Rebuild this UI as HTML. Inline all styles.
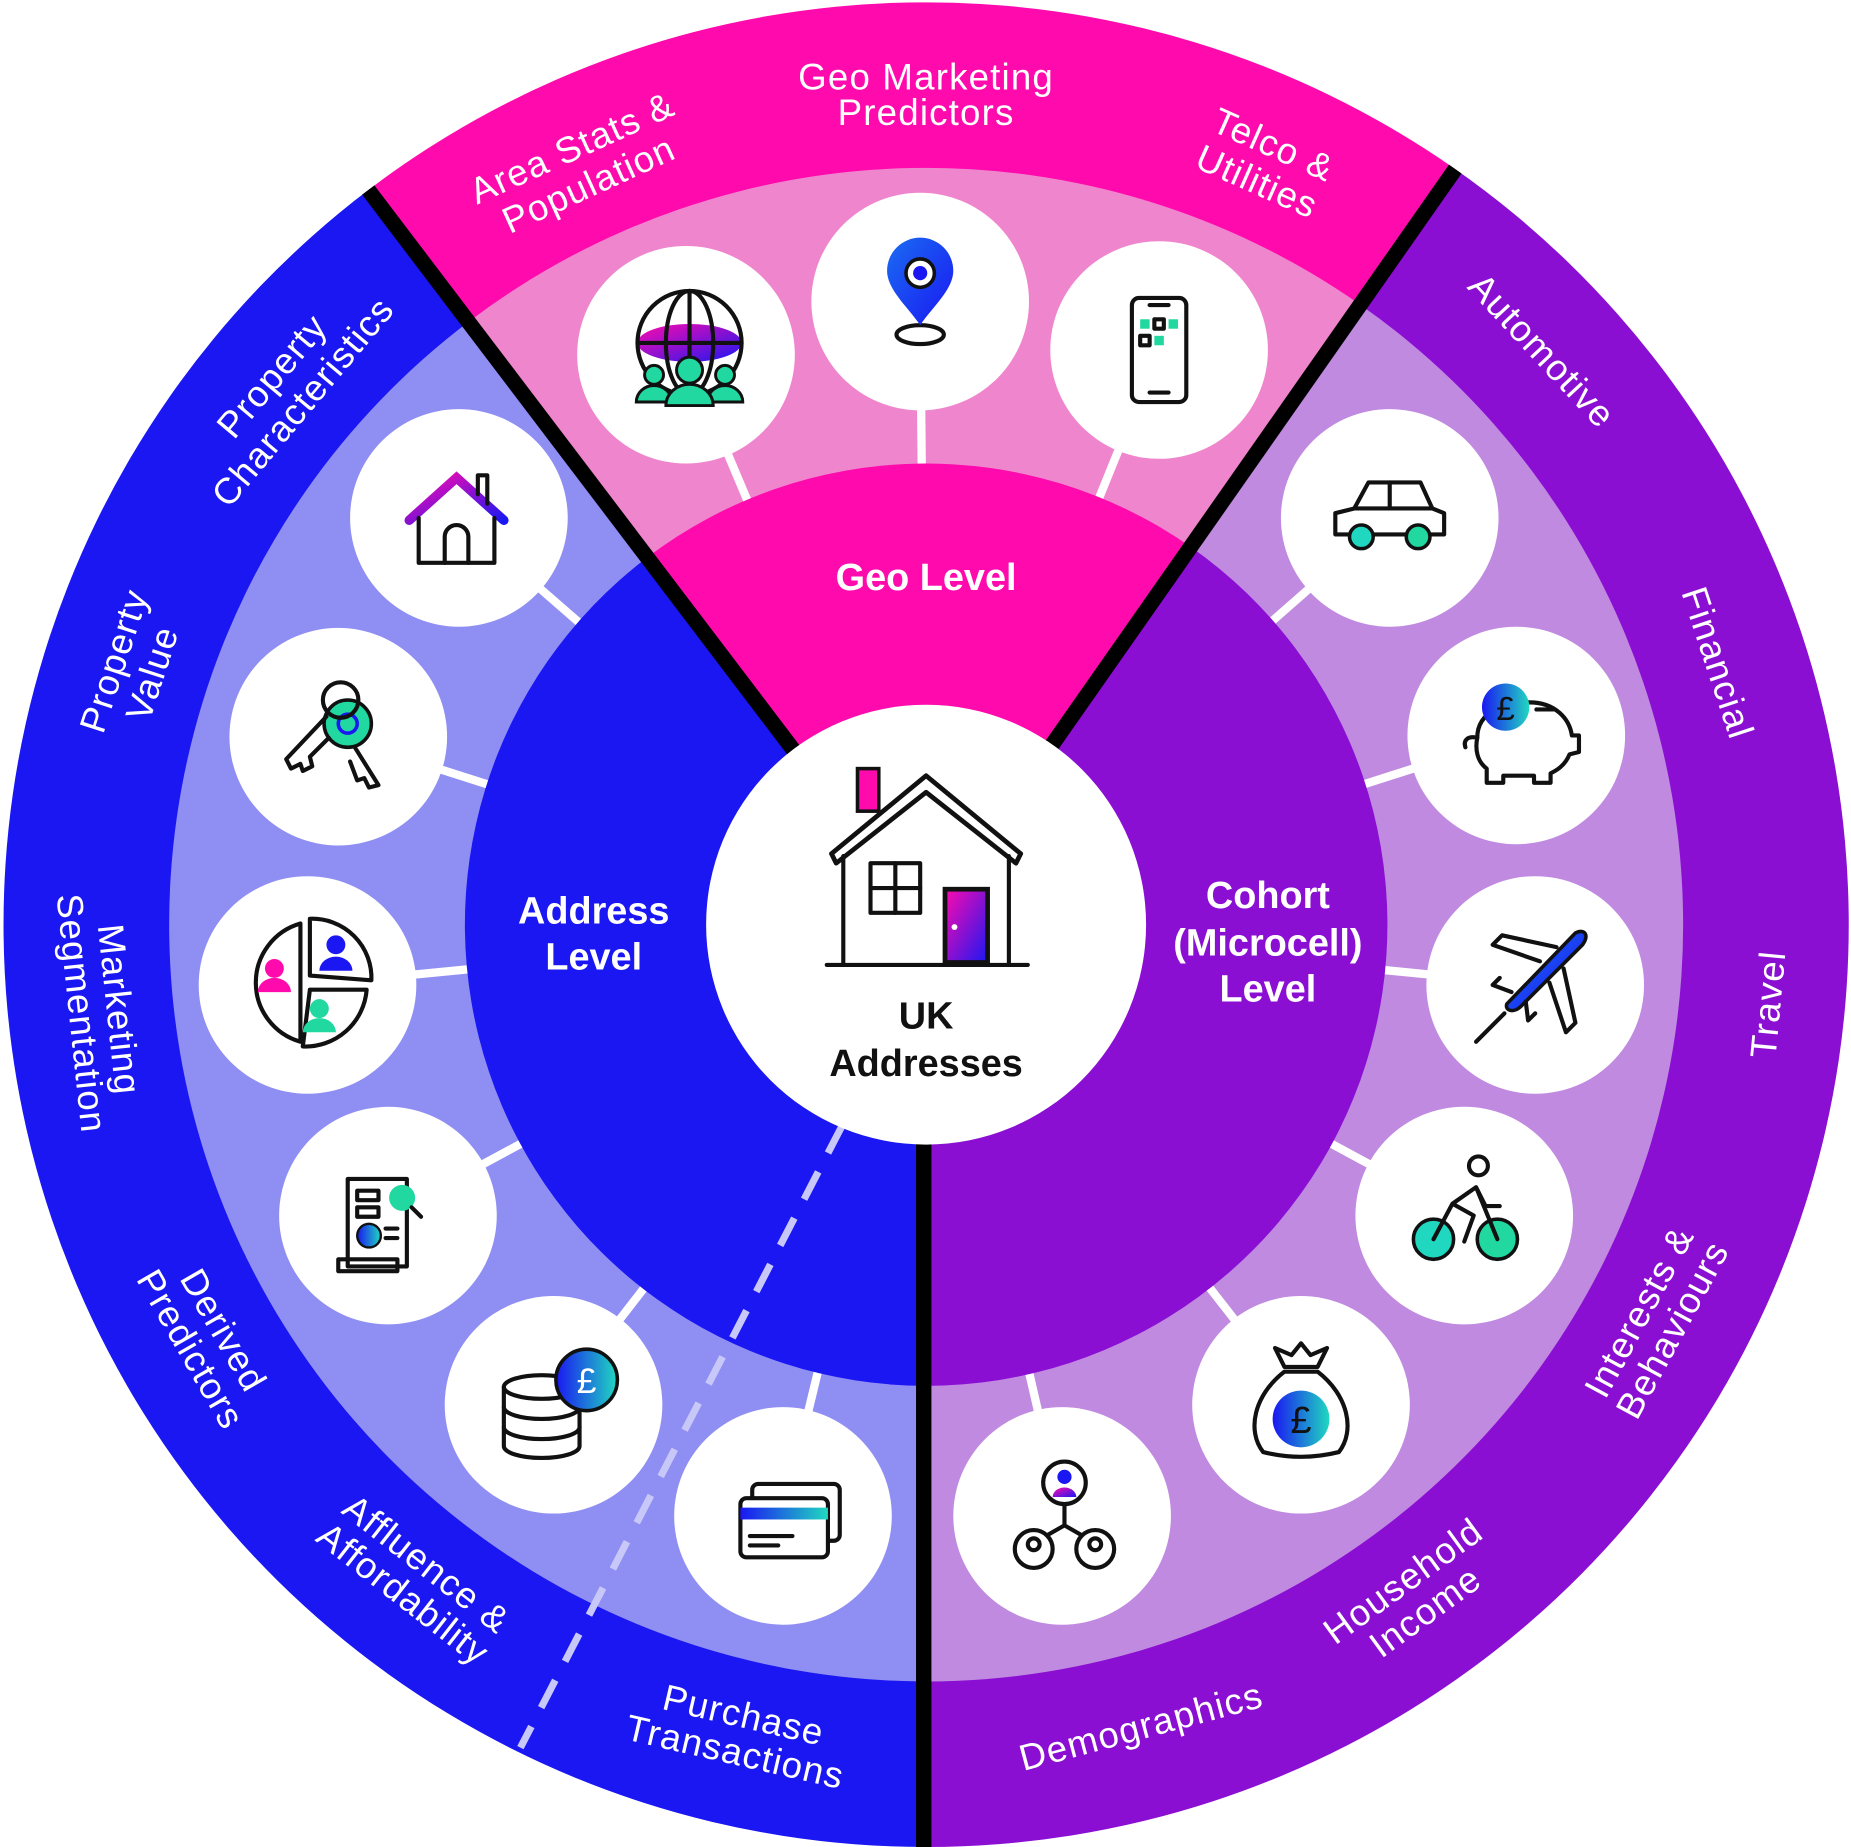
<!DOCTYPE html>
<html><head><meta charset="utf-8"><style>
html,body{margin:0;padding:0;background:#fff;}
svg{display:block;}
.lb{font-family:"Liberation Sans",sans-serif;font-size:31px;fill:#fff;text-anchor:middle;dominant-baseline:central;letter-spacing:1px;}
.lv{font-family:"Liberation Sans",sans-serif;font-size:32px;font-weight:bold;fill:#fff;text-anchor:middle;}
.ic{fill:none;stroke:#111;stroke-width:3.5;stroke-linejoin:round;stroke-linecap:round;}
</style></head><body>
<svg width="1851" height="1847" viewBox="0 0 1565 1562" preserveAspectRatio="none" xmlns="http://www.w3.org/2000/svg">
<defs>
<linearGradient id="g1" x1="0" y1="0" x2="1" y2="1"><stop offset="0" stop-color="#ff0aad"/><stop offset="1" stop-color="#1a17f2"/></linearGradient>
<linearGradient id="g2" x1="0" y1="0" x2="1" y2="0"><stop offset="0" stop-color="#1a17f2"/><stop offset="1" stop-color="#20d8c0"/></linearGradient>
<linearGradient id="g3" x1="0" y1="0" x2="1" y2="1"><stop offset="0" stop-color="#1a6cf2"/><stop offset="1" stop-color="#1a17f2"/></linearGradient>
</defs>
<path d="M783 782 L311.4 160.7 A780 780 0 0 1 1230.4 143 Z" fill="#ff0aad"/>
<path d="M783 782 L783 1562 A780 780 0 0 1 311.4 160.7 Z" fill="#1a17f2"/>
<path d="M783 782 L1230.4 143 A780 780 0 0 1 783 1562 Z" fill="#8a0fd3"/>
<path d="M783 782 L396.1 272.2 A640 640 0 0 1 1150.1 257.7 Z" fill="#ef86cd"/>
<path d="M783 782 L783 1422 A640 640 0 0 1 396.1 272.2 Z" fill="#8f8ef3"/>
<path d="M783 782 L1150.1 257.7 A640 640 0 0 1 783 1422 Z" fill="#c08ae0"/>
<g stroke="#fff" stroke-width="7">
<line x1="580" y1="300" x2="783" y2="782"/><line x1="778" y1="255" x2="783" y2="782"/><line x1="980" y1="296" x2="783" y2="782"/>
<line x1="388" y1="438" x2="783" y2="782"/><line x1="286" y1="623" x2="783" y2="782"/><line x1="260" y1="833" x2="783" y2="782"/>
<line x1="328" y1="1028" x2="783" y2="782"/><line x1="468" y1="1188" x2="783" y2="782"/><line x1="662" y1="1282" x2="783" y2="782"/>
<line x1="1175" y1="438" x2="783" y2="782"/><line x1="1282" y1="622" x2="783" y2="782"/><line x1="1298" y1="833" x2="783" y2="782"/>
<line x1="1238" y1="1028" x2="783" y2="782"/><line x1="1100" y1="1188" x2="783" y2="782"/><line x1="898" y1="1282" x2="783" y2="782"/>
</g>
<path d="M783 782 L547.2 471.4 A390 390 0 0 1 1006.7 462.5 Z" fill="#ff0aad"/>
<path d="M783 782 L783 1172 A390 390 0 0 1 547.2 471.4 Z" fill="#1a17f2"/>
<path d="M783 782 L1006.7 462.5 A390 390 0 0 1 783 1172 Z" fill="#8a0fd3"/>
<line x1="712" y1="952" x2="440" y2="1478" stroke="#c8c8f8" stroke-width="6" stroke-dasharray="26 18"/>
<g stroke="#000" stroke-width="13">
<line x1="783" y1="782" x2="311.4" y2="160.7"/>
<line x1="783" y1="782" x2="1230.4" y2="143"/>
<line x1="781" y1="782" x2="781" y2="1562"/>
</g>
<g fill="#fff">
<circle cx="580" cy="300" r="92"/><circle cx="778" cy="255" r="92"/><circle cx="980" cy="296" r="92"/>
<circle cx="388" cy="438" r="92"/><circle cx="286" cy="623" r="92"/><circle cx="260" cy="833" r="92"/>
<circle cx="328" cy="1028" r="92"/><circle cx="468" cy="1188" r="92"/><circle cx="662" cy="1282" r="92"/>
<circle cx="1175" cy="438" r="92"/><circle cx="1282" cy="622" r="92"/><circle cx="1298" cy="833" r="92"/>
<circle cx="1238" cy="1028" r="92"/><circle cx="1100" cy="1188" r="92"/><circle cx="898" cy="1282" r="92"/>
<circle cx="783" cy="782" r="186"/>
</g>
<g transform="translate(583,295)">
<ellipse cx="0" cy="-5" rx="44" ry="16" fill="url(#g1)"/>
<circle cx="0" cy="-5" r="44" class="ic"/><ellipse cx="0" cy="-5" rx="20" ry="44" class="ic"/><line x1="0" y1="-49" x2="0" y2="39" class="ic"/><line x1="-44" y1="-5" x2="44" y2="-5" class="ic"/>
<circle cx="-30" cy="22" r="8" fill="#20d8a0" stroke="#111" stroke-width="2.5"/><path d="M-45 45 a15 14 0 0 1 30 0 Z" fill="#20d8a0" stroke="#111" stroke-width="2.5"/>
<circle cx="30" cy="22" r="8" fill="#20d8a0" stroke="#111" stroke-width="2.5"/><path d="M15 45 a15 14 0 0 1 30 0 Z" fill="#20d8a0" stroke="#111" stroke-width="2.5"/>
<circle cx="0" cy="18" r="11" fill="#20d8a0" stroke="#111" stroke-width="2.5"/><path d="M-20 48 a20 18 0 0 1 40 0 Z" fill="#20d8a0" stroke="#111" stroke-width="2.5"/>
</g>
<g transform="translate(778,235)">
<ellipse cx="0" cy="48" rx="20" ry="8" class="ic"/>
<path d="M0 40 C-10 25 -28 10 -28 -6 A28 28 0 0 1 28 -6 C28 10 10 25 0 40 Z" fill="url(#g3)"/>
<circle cx="0" cy="-4" r="12" fill="#fff" stroke="#111" stroke-width="3"/><circle cx="0" cy="-4" r="6" fill="#1a17f2"/>
</g>
<g transform="translate(980,296)">
<rect x="-23" y="-44" width="46" height="88" rx="6" class="ic"/><line x1="-8" y1="-38" x2="8" y2="-38" class="ic"/><line x1="-8" y1="36" x2="8" y2="36" class="ic"/>
<rect x="-16" y="-26" width="8" height="8" fill="#20d8a0"/><rect x="-4" y="-26" width="8" height="8" class="ic" stroke-width="2"/><rect x="8" y="-26" width="8" height="8" fill="#20d8a0"/>
<rect x="-16" y="-12" width="8" height="8" class="ic" stroke-width="2"/><rect x="-4" y="-12" width="8" height="8" fill="#20d8a0"/>
</g>
<g transform="translate(386,440)">
<path d="M-40 0 L0 -36 L40 0" fill="none" stroke="url(#g1)" stroke-width="8" stroke-linecap="round"/>
<path d="M-32 -2 V36 H32 V-2" class="ic"/><path d="M-10 36 V14 A10 10 0 0 1 10 14 V36" class="ic"/><path d="M18 -22 V-38 H26 V-14" class="ic"/>
</g>
<g transform="translate(282,620)">
<circle cx="12" cy="-8" r="20" fill="#20d8a0" stroke="#111" stroke-width="3"/><circle cx="12" cy="-8" r="8" fill="none" stroke="#1a17f2" stroke-width="3"/>
<circle cx="6" cy="-28" r="15" class="ic"/>
<path d="M-6 -14 L-40 22 L-36 30 L-28 26 L-26 32 L-18 28 L-20 20 L-4 4" class="ic"/>
<path d="M18 12 L38 44 L30 46 L26 38 L20 40 L14 24" class="ic"/>
</g>
<g transform="translate(258,833)">
<path d="M-4 -4 L-4 -52 A52 52 0 0 0 -4 48 Z" class="ic"/>
<path d="M4 -8 V-56 A50 50 0 0 1 56 -4 Z" class="ic"/>
<path d="M-2 52 L4 4 H52 A52 52 0 0 1 -2 52 Z" class="ic"/>
<circle cx="-26" cy="-14" r="8" fill="#ff0aad"/><path d="M-40 6 a14 12 0 0 1 28 0Z" fill="#ff0aad"/>
<circle cx="26" cy="-34" r="8" fill="#1a17f2"/><path d="M12 -12 a14 12 0 0 1 28 0Z" fill="#1a17f2"/>
<circle cx="12" cy="20" r="8" fill="#20d8a0"/><path d="M-2 40 a14 12 0 0 1 28 0Z" fill="#20d8a0"/>
</g>
<g transform="translate(322,1035)">
<rect x="-28" y="-38" width="50" height="74" class="ic"/><rect x="-36" y="30" width="50" height="10" class="ic" stroke-width="2.5"/>
<rect x="-20" y="-28" width="18" height="8" class="ic" stroke-width="2.5"/><rect x="-20" y="-14" width="18" height="8" class="ic" stroke-width="2.5"/>
<circle cx="-10" cy="10" r="10" fill="url(#g2)" stroke="#111" stroke-width="2"/>
<line x1="4" y1="4" x2="14" y2="4" class="ic" stroke-width="2.5"/><line x1="4" y1="12" x2="14" y2="12" class="ic" stroke-width="2.5"/>
<circle cx="18" cy="-22" r="11" fill="#20d8a0"/><line x1="26" y1="-14" x2="34" y2="-6" class="ic"/>
</g>
<g transform="translate(458,1195)">
<ellipse cx="0" cy="-22" rx="32" ry="10" class="ic"/><path d="M-32 -22 V28 A32 10 0 0 0 32 28 V-22" class="ic"/>
<path d="M-32 -5 A32 10 0 0 0 32 -5 M-32 12 A32 10 0 0 0 32 12" class="ic"/>
<circle cx="38" cy="-28" r="26" fill="url(#g2)" stroke="#111" stroke-width="3"/>
<text x="38" y="-17" font-family="Liberation Sans,sans-serif" font-size="30" fill="#fff" text-anchor="middle">£</text>
</g>
<g transform="translate(668,1285)">
<rect x="-32" y="-30" width="74" height="48" rx="5" class="ic"/>
<rect x="-42" y="-18" width="74" height="50" rx="5" fill="#fff" stroke="#111" stroke-width="3.5"/>
<rect x="-42" y="-10" width="74" height="10" fill="url(#g2)"/>
<line x1="-34" y1="14" x2="2" y2="14" class="ic" stroke-width="2.5"/><line x1="-34" y1="22" x2="-10" y2="22" class="ic" stroke-width="2.5"/>
</g>
<g transform="translate(1175,438)">
<path d="M-46 12 V-4 L-30 -8 L-18 -30 H26 L36 -8 L46 -4 V14 H-46Z" class="ic"/>
<line x1="0" y1="-30" x2="0" y2="-8" class="ic"/><line x1="-30" y1="-8" x2="36" y2="-8" class="ic"/>
<circle cx="-24" cy="16" r="10" fill="#20d8c0" stroke="#111" stroke-width="3"/><circle cx="24" cy="16" r="10" fill="#20d8a0" stroke="#111" stroke-width="3"/>
</g>
<g transform="translate(1285,628)">
<path d="M-36 -4 C-36 -28 -10 -34 8 -34 C30 -34 42 -20 44 -6 L50 -6 V8 L42 10 C38 20 30 24 26 26 V34 H12 V28 H-14 V34 H-28 V22 C-36 16 -38 6 -36 -4 Z" class="ic"/>
<path d="M-36 -4 C-44 -6 -48 -2 -46 4" class="ic"/>
<circle cx="-12" cy="-30" r="20" fill="url(#g2)"/>
<text x="-12" y="-19" font-family="Liberation Sans,sans-serif" font-size="28" fill="#111" text-anchor="middle">£</text>
<line x1="14" y1="-28" x2="28" y2="-28" class="ic" stroke-width="2.5"/>
</g>
<g transform="translate(1298,833)">
<path d="M34 -44 C42 -48 46 -42 40 -34 L-12 18 C-18 24 -26 22 -24 16 Z" fill="url(#g3)" stroke="#111" stroke-width="3"/>
<path d="M4 -20 L-36 -34 L-28 -42 L18 -32 M12 -2 L26 40 L34 32 L24 -14" class="ic"/>
<path d="M-20 6 L-36 0 L-30 -6 M-8 14 L-6 30 L0 24" class="ic"/>
<line x1="-26" y1="24" x2="-50" y2="48" class="ic" stroke-width="2.5"/>
</g>
<g transform="translate(1238,1028)">
<circle cx="-26" cy="20" r="17" fill="#20d8c0" stroke="#111" stroke-width="3"/><circle cx="28" cy="20" r="17" fill="#20d8a0" stroke="#111" stroke-width="3"/>
<circle cx="12" cy="-42" r="8" class="ic"/>
<path d="M-26 20 L-10 -10 L10 -24 L18 -8 L30 -8 M-10 -10 L8 0 L0 22 M10 -24 L28 20" class="ic"/>
</g>
<g transform="translate(1100,1190)">
<path d="M-14 -34 L-22 -50 L-8 -44 L0 -54 L8 -44 L22 -50 L14 -34 Z" class="ic"/>
<path d="M-14 -30 C-40 -10 -46 20 -32 38 Q0 46 32 38 C46 20 40 -10 14 -30 Z" class="ic"/>
<circle cx="0" cy="10" r="24" fill="url(#g2)"/>
<text x="0" y="22" font-family="Liberation Sans,sans-serif" font-size="32" fill="#111" text-anchor="middle">£</text>
</g>
<g transform="translate(900,1282)">
<circle cx="0" cy="-28" r="18" class="ic"/><circle cx="0" cy="-33" r="6" fill="#1a17f2"/><path d="M-10 -16 a10 8 0 0 1 20 0Z" fill="url(#g1)"/>
<circle cx="-26" cy="28" r="16" class="ic"/><circle cx="26" cy="28" r="16" class="ic"/>
<circle cx="-26" cy="24" r="5" class="ic" stroke-width="2.5"/><circle cx="26" cy="24" r="5" class="ic" stroke-width="2.5"/>
<path d="M0 -10 V8 L-14 16 M0 8 L14 16" class="ic"/>
</g>
<g transform="translate(783,730)">
<rect x="-58" y="-80" width="18" height="36" fill="#ff0aad" stroke="#111" stroke-width="3"/>
<path d="M-80 -8 L0 -74 L80 -8 L76 0 L0 -60 L-76 0 Z" fill="#fff" stroke="#111" stroke-width="4" stroke-linejoin="round"/>
<path d="M-70 -6 V84 M70 -6 V84 M-84 86 H86" class="ic" stroke-width="4"/>
<rect x="-47" y="0" width="42" height="42" class="ic" stroke-width="4"/><line x1="-26" y1="0" x2="-26" y2="42" class="ic"/><line x1="-47" y1="21" x2="-5" y2="21" class="ic"/>
<rect x="16" y="22" width="36" height="62" fill="url(#g1)" stroke="#111" stroke-width="4"/><circle cx="24" cy="54" r="2.5" fill="#fff"/>
</g>
<text x="783" y="870" class="lv" style="fill:#111">UK</text>
<text x="783" y="910" class="lv" style="fill:#111">Addresses</text>
<text x="783" y="499" class="lv">Geo Level</text>
<text x="502" y="781" class="lv">Address</text><text x="502" y="820" class="lv">Level</text>
<text x="1072" y="768" class="lv">Cohort</text><text x="1072" y="808" class="lv">(Microcell)</text><text x="1072" y="847" class="lv">Level</text>
<g transform="translate(783,782)">
<text class="lb" transform="rotate(0) translate(0,-717)">Geo Marketing</text>
<text class="lb" transform="rotate(0) translate(0,-687)">Predictors</text>
<text class="lb" transform="rotate(-24.5) translate(0,-722)">Area Stats &amp;</text>
<text class="lb" transform="rotate(-24.5) translate(0,-688)">Population</text>
<text class="lb" transform="rotate(24) translate(0,-722)">Telco &amp;</text>
<text class="lb" transform="rotate(24) translate(0,-688)">Utilities</text>
<text class="lb" transform="rotate(-50) translate(0,-722)">Property</text>
<text class="lb" transform="rotate(-50) translate(0,-688)">Characteristics</text>
<text class="lb" transform="rotate(-72) translate(0,-722)">Property</text>
<text class="lb" transform="rotate(-72) translate(0,-688)">Value</text>
<text class="lb" transform="rotate(-96) translate(0,-686) rotate(180)">Marketing</text>
<text class="lb" transform="rotate(-96) translate(0,-718) rotate(180)">Segmentation</text>
<text class="lb" transform="rotate(-120) translate(0,-686) rotate(180)">Derived</text>
<text class="lb" transform="rotate(-120) translate(0,-718) rotate(180)">Predictors</text>
<text class="lb" transform="rotate(-142) translate(0,-686) rotate(180)">Affluence &amp;</text>
<text class="lb" transform="rotate(-142) translate(0,-718) rotate(180)">Affordability</text>
<text class="lb" transform="rotate(-167) translate(0,-686) rotate(180)">Purchase</text>
<text class="lb" transform="rotate(-167) translate(0,-718) rotate(180)">Transactions</text>
<text class="lb" transform="rotate(165) translate(0,-702) rotate(180)">Demographics</text>
<text class="lb" transform="rotate(144) translate(0,-686) rotate(180)">Household</text>
<text class="lb" transform="rotate(144) translate(0,-718) rotate(180)">Income</text>
<text class="lb" transform="rotate(118.5) translate(0,-686) rotate(180)">Interests &amp;</text>
<text class="lb" transform="rotate(118.5) translate(0,-718) rotate(180)">Behaviours</text>
<text class="lb" transform="rotate(95.4) translate(0,-715) rotate(180)">Travel</text>
<text class="lb" transform="rotate(71.7) translate(0,-705)">Financial</text>
<text class="lb" transform="rotate(47) translate(0,-712)">Automotive</text>
</g>
</svg>
</body></html>
